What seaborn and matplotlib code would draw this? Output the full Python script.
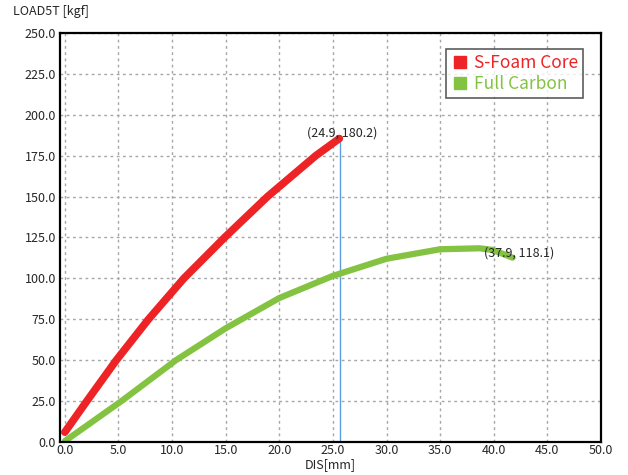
import matplotlib
matplotlib.use("Agg")
import matplotlib.pyplot as plt
from matplotlib.lines import Line2D
import pandas as pd
import seaborn as sns

# ---------------- Data ----------------
foam_dis = [0.0, 2.05, 4.8, 7.8, 11.1, 14.9, 18.9, 23.4, 25.6]
foam_load = [6.0, 25.0, 50.0, 75.0, 100.0, 125.0, 150.0, 175.0, 185.5]

carbon_dis = [0.0, 5.28, 10.36, 15.0, 20.0, 24.98, 29.99, 34.98, 38.67, 39.91, 41.75]
carbon_load = [0.5, 25.0, 50.0, 69.5, 88.0, 101.5, 112.0, 117.8, 118.4, 117.4, 112.7]

series_names = ["S-Foam Core", "Full Carbon"]
series_colors = ["#ee2326", "#84c341"]
series_widths = [5.5, 4.5]
peak_labels = ["(24.9, 180.2)", "(37.9, 118.1)"]
marker_dis = 25.64

x_ticks = [0, 5, 10, 15, 20, 25, 30, 35, 40, 45, 50]
y_ticks = [0, 25, 50, 75, 100, 125, 150, 175, 200, 225, 250]

df = pd.concat([
    pd.DataFrame({"dis": foam_dis, "load": foam_load, "sample": series_names[0]}),
    pd.DataFrame({"dis": carbon_dis, "load": carbon_load, "sample": series_names[1]}),
])

# ---------------- Plot ----------------
sns.set_style("white")
plt.rcParams["font.family"] = ["Noto Sans CJK KR", "DejaVu Sans"]

fig = plt.figure(figsize=(6.28, 4.75), dpi=100)
ax = fig.add_axes([60 / 628, 33 / 475, 541 / 628, 409 / 475])

for name, color, lw in zip(series_names, series_colors, series_widths):
    sns.lineplot(data=df[df["sample"] == name], x="dis", y="load", color=color,
                 linewidth=lw, legend=False, ax=ax, sort=False)

# vertical marker line at the foam core peak
ax.plot([marker_dis, marker_dis], [0, foam_load[-1]], color="#5a9ee0", lw=1.0, zorder=1)

ax.annotate(peak_labels[0], xy=(foam_dis[-1], foam_load[-1]), xytext=(2, 4),
            textcoords="offset points", ha="center", va="center", fontsize=9)
ax.annotate(peak_labels[1], xy=(carbon_dis[-1], carbon_load[-1]), xytext=(5, 3.5),
            textcoords="offset points", ha="center", va="center", fontsize=9)

ax.set_xlim(-0.45, 50)
ax.set_ylim(0, 250)
ax.set_xticks(x_ticks)
ax.set_yticks(y_ticks)
ax.set_xticklabels([f"{v:.1f}" for v in x_ticks])
ax.set_yticklabels([f"{v:.1f}" for v in y_ticks])
ax.tick_params(axis="y", length=0, labelsize=9, pad=3)
ax.tick_params(axis="x", length=0, labelsize=9, pad=1.5)
ax.set_xlabel("")
ax.set_ylabel("")

ax.grid(True, color="#a6a6a6", linestyle=(0, (2, 2.5)), linewidth=1.0)
ax.set_axisbelow(True)
for sp in ax.spines.values():
    sp.set_visible(True)
    sp.set_color("black")
    sp.set_linewidth(1.6)

handles = [Line2D([], [], linestyle="none", marker="s", markersize=9,
                  markerfacecolor=c, markeredgecolor=c) for c in series_colors]
leg = ax.legend(handles, series_names, loc="upper right", bbox_to_anchor=(0.967, 0.961),
                borderaxespad=0, fontsize=12.5, frameon=True, fancybox=False,
                handletextpad=0.3, handlelength=1.0, labelspacing=0.15,
                borderpad=0.3)
leg.get_frame().set_edgecolor("#333333")
leg.get_frame().set_linewidth(1.2)
for txt, c in zip(leg.get_texts(), series_colors):
    txt.set_color(c)

fig.text(13 / 628, 1 - 12 / 475, "LOAD5T [kgf]", fontsize=9, ha="left", va="center")
fig.text(330 / 628, 1 - 465 / 475, "DIS[mm]", fontsize=9, ha="center", va="center")

fig.savefig("out.png", dpi=100)
